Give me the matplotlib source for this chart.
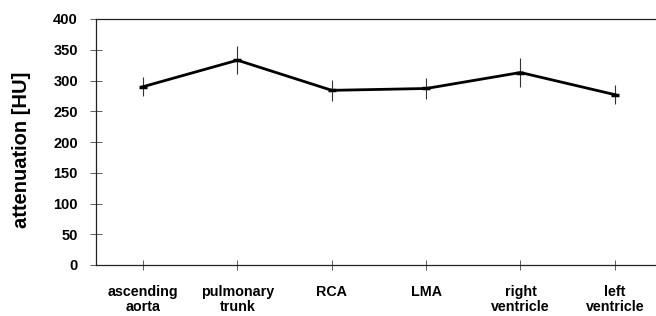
import matplotlib
matplotlib.use('Agg')
import matplotlib.pyplot as plt

plt.rcParams['font.family'] = ['Liberation Sans', 'DejaVu Sans']
plt.rcParams['font.weight'] = 'bold'

# Mean attenuation and spread per region
regions = ['ascending\naorta', 'pulmonary\ntrunk', 'RCA', 'LMA', 'right\nventricle', 'left\nventricle']
attenuation = [290, 333, 284, 287, 313, 277]
spread = [16, 23, 17, 17, 23, 16]
y_ticks = [0, 50, 100, 150, 200, 250, 300, 350, 400]

W, H = 656, 316
fig = plt.figure(figsize=(W / 100, H / 100), dpi=100)
# right edge of the plot area runs slightly past the picture, as in the original
ax = fig.add_axes([96 / W, (H - 265) / H, (662 - 96) / W, (265 - 19) / H])

x = list(range(len(regions)))
ax.errorbar(x, attenuation, yerr=spread, fmt='none', ecolor='#333333', elinewidth=0.8, capsize=0)
ax.plot(x, attenuation, color='black', linewidth=2.0, marker='_', markersize=6, markeredgewidth=2.5)

ax.set_xlim(-0.5, 5.5)
ax.set_ylim(0, 400)
ax.set_yticks(y_ticks)
ax.set_xticks(x)
ax.set_xticklabels(regions, fontsize=10.3, fontweight='bold', linespacing=1.1)
ax.tick_params(axis='y', labelsize=10.5, direction='inout', length=8, width=0.6, color='#444444', pad=9)
ax.tick_params(axis='x', direction='inout', length=7, width=0.6, color='#444444', pad=11)
for lab in ax.get_yticklabels():
    lab.set_fontweight('bold')

ax.set_ylabel('attenuation [HU]', fontsize=14.5, fontweight='bold')
ax.yaxis.set_label_coords(-0.115, 0.47)

for side in ['left', 'bottom', 'top']:
    ax.spines[side].set_linewidth(0.9)
    ax.spines[side].set_color('#222222')
ax.spines['right'].set_visible(False)

fig.savefig('out.png', dpi=100)
